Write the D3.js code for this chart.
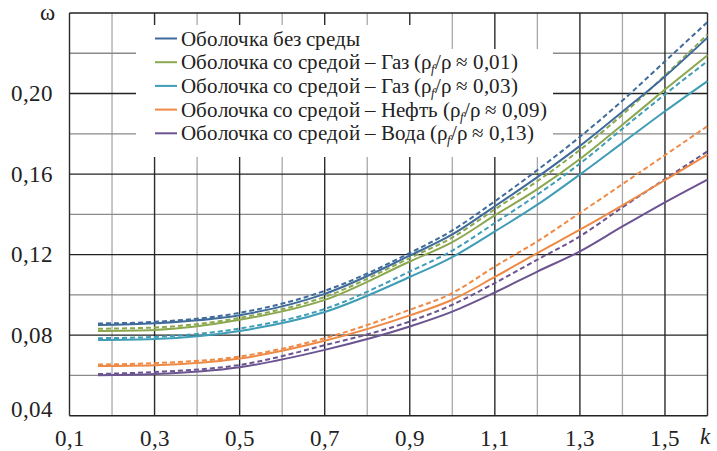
<!DOCTYPE html>
<html>
<head>
<meta charset="utf-8">
<script src="https://cdn.jsdelivr.net/npm/d3@7"></script>
<style>
  @font-face { font-family: "RefSerif"; src: local("Liberation Serif"), local("LiberationSerif"), local("LiberationSerif-Regular"); font-style: normal; }
  @font-face { font-family: "RefSerif"; src: local("Liberation Serif Italic"), local("LiberationSerif-Italic"); font-style: italic; }
  html, body { margin: 0; padding: 0; background: #fff; }
</style>
</head>
<body>
<svg id="chart" width="717" height="451"></svg>
<script>
// ---- data ----
const kValues = [0.167, 0.3, 0.5, 0.7, 0.9, 1.0, 1.1, 1.2, 1.3, 1.4, 1.5, 1.6];
const shellNoMediumSolid  = [0.0850,0.0859,0.0899,0.1005,0.1195,0.1300,0.1440,0.1585,0.1740,0.1910,0.2085,0.2278];
const shellNoMediumDashed = [0.0858,0.0866,0.0911,0.1020,0.1208,0.1320,0.1465,0.1620,0.1785,0.1965,0.2160,0.2355];
const gas001Solid  = [0.0821,0.0826,0.0876,0.0975,0.1166,0.1262,0.1395,0.1525,0.1675,0.1845,0.2020,0.2190];
const gas001Dashed = [0.0832,0.0838,0.0886,0.0990,0.1183,0.1285,0.1425,0.1565,0.1720,0.1895,0.2090,0.2294];
const gas003Solid  = [0.0776,0.0781,0.0821,0.0915,0.1089,0.1188,0.1315,0.1448,0.1598,0.1755,0.1912,0.2062];
const gas003Dashed = [0.0785,0.0791,0.0833,0.0930,0.1116,0.1220,0.1357,0.1498,0.1652,0.1825,0.1996,0.2161];
const oilSolid  = [0.0647,0.0651,0.0684,0.0772,0.0898,0.0976,0.1089,0.1208,0.1324,0.1445,0.1570,0.1697];
const oilDashed = [0.0654,0.0661,0.0694,0.0785,0.0926,0.1009,0.1141,0.1266,0.1407,0.1550,0.1694,0.1838];
const waterSolid  = [0.0601,0.0607,0.0641,0.0727,0.0843,0.0917,0.1012,0.1116,0.1216,0.1340,0.1460,0.1573];
const waterDashed = [0.0607,0.0617,0.0652,0.0750,0.0868,0.0951,0.1059,0.1175,0.1291,0.1435,0.1575,0.1713];

const seriesNames = [
  "Оболочка без среды",
  "Оболочка со средой – Газ (ρ|f|/ρ ≈ 0,01)",
  "Оболочка со средой – Газ (ρ|f|/ρ ≈ 0,03)",
  "Оболочка со средой – Нефть (ρ|f|/ρ ≈ 0,09)",
  "Оболочка со средой – Вода (ρ|f|/ρ ≈ 0,13)"
];
const seriesColors = ["#3f6b9b", "#8ba84f", "#3f9db6", "#ee8a45", "#6b5491"];
const solidSeries  = [shellNoMediumSolid, gas001Solid, gas003Solid, oilSolid, waterSolid];
const dashedSeries = [shellNoMediumDashed, gas001Dashed, gas003Dashed, oilDashed, waterDashed];

const xTickLabels = [0.1, 0.3, 0.5, 0.7, 0.9, 1.1, 1.3, 1.5];
const xGridMajor = [0.1, 0.3, 0.5, 0.7, 0.9, 1.1, 1.3, 1.5, 1.6];
const xGridMinor = [0.2, 0.4, 0.6, 0.8, 1.0, 1.2, 1.4];
const yTickLabels = [0.04, 0.08, 0.12, 0.16, 0.20];
const yGridMajor = [0.04, 0.08, 0.12, 0.16, 0.20, 0.24];
const yGridMinor = [0.06, 0.10, 0.14, 0.18, 0.22];

// ---- layout ----
const FONT = '"RefSerif", "Liberation Serif", "Times New Roman", serif';
const svg = d3.select("#chart");
const x = d3.scaleLinear().domain([0.1, 1.6]).range([69.5, 707.5]);
const y = d3.scaleLinear().domain([0.04, 0.24]).range([415.7, 13]);
const fmtX = v => d3.format(".1f")(v).replace(".", ",");
const fmtY = v => d3.format(".2f")(v).replace(".", ",");

const grid = svg.append("g");
grid.selectAll(".vmin").data(xGridMinor).join("line")
  .attr("x1", d => x(d)).attr("x2", d => x(d)).attr("y1", y(0.04)).attr("y2", y(0.24))
  .attr("stroke", "#a8a8a8").attr("stroke-width", 1.3);
grid.selectAll(".hmin").data(yGridMinor).join("line")
  .attr("x1", x(0.1)).attr("x2", x(1.6)).attr("y1", d => y(d)).attr("y2", d => y(d))
  .attr("stroke", "#8a8a8a").attr("stroke-width", 1.3);
grid.selectAll(".vmaj").data(xGridMajor).join("line")
  .attr("x1", d => x(d)).attr("x2", d => x(d)).attr("y1", y(0.04)).attr("y2", y(0.24))
  .attr("stroke", "#2b2b2b").attr("stroke-width", 1.4);
grid.selectAll(".hmaj").data(yGridMajor).join("line")
  .attr("x1", x(0.1)).attr("x2", x(1.6)).attr("y1", d => y(d)).attr("y2", d => y(d))
  .attr("stroke", "#222").attr("stroke-width", 1.4);

// legend background (hides grid)
const legBg = svg.append("g");
legBg.append("rect").attr("x", 136).attr("y", 25).attr("width", 296).attr("height", 26).attr("fill", "#fff");
legBg.append("rect").attr("x", 136).attr("y", 49).attr("width", 417).attr("height", 108).attr("fill", "#fff");

// lines
const line = d3.line().x((d, i) => x(kValues[i])).y(d => y(d)).curve(d3.curveMonotoneX);
const lines = svg.append("g").attr("fill", "none");
dashedSeries.forEach((s, i) => {
  lines.append("path").attr("d", line(s)).attr("stroke", seriesColors[i])
    .attr("stroke-width", 2).attr("stroke-dasharray", "5,3");
});
solidSeries.forEach((s, i) => {
  lines.append("path").attr("d", line(s)).attr("stroke", seriesColors[i])
    .attr("stroke-width", 2);
});

// tick labels
const fs = 23;
xTickLabels.forEach(v => {
  svg.append("text").attr("x", x(v)).attr("y", 446).attr("text-anchor", "middle")
    .attr("font-size", fs).attr("fill", "#222").attr("font-family", FONT).style("font-family", FONT).text(fmtX(v));
});
yTickLabels.forEach(v => {
  svg.append("text").attr("x", 53).attr("y", v === 0.04 ? y(v) + 1 : y(v) + 7.5).attr("text-anchor", "end")
    .attr("font-size", fs).attr("fill", "#222").attr("font-family", FONT).style("font-family", FONT).text(fmtY(v));
});
svg.append("text").attr("x", 47.5).attr("y", 20).attr("text-anchor", "middle")
  .attr("font-size", fs).attr("fill", "#222").attr("font-family", FONT).style("font-family", FONT).text("ω");
svg.append("text").attr("x", 700).attr("y", 444).attr("font-size", fs)
  .attr("font-style", "italic").attr("fill", "#222").attr("font-family", FONT).style("font-family", FONT).text("k");

// legend
const legY0 = 38.5, legDy = 23.7;
seriesNames.forEach((name, i) => {
  const yy = legY0 + i * legDy;
  svg.append("line").attr("x1", 155).attr("x2", 177).attr("y1", yy).attr("y2", yy)
    .attr("stroke", seriesColors[i]).attr("stroke-width", 2);
  const t = svg.append("text").attr("x", 181).attr("y", yy + 7).attr("font-size", 20.5)
    .attr("fill", "#222").attr("font-family", FONT).style("font-family", FONT);
  const parts = name.split("|");
  t.append("tspan").text(parts[0]);
  if (parts.length > 1) {
    t.append("tspan").attr("font-size", 13).attr("font-style", "italic").attr("dy", 4).text(parts[1]);
    t.append("tspan").attr("dy", -4).text(parts[2]);
  }
});
</script>
</body>
</html>
